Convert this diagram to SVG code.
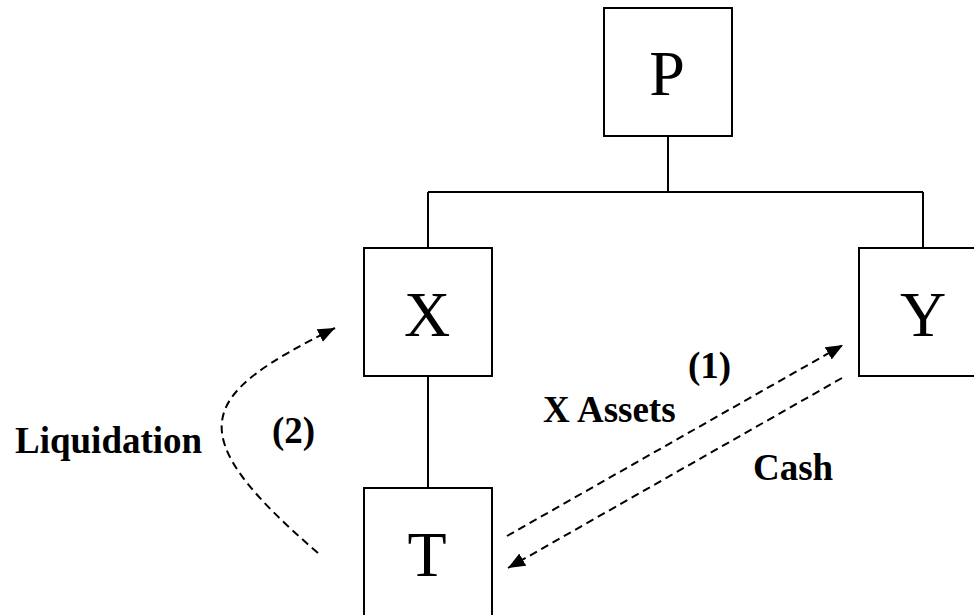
<svg xmlns="http://www.w3.org/2000/svg" width="974" height="615" viewBox="0 0 974 615">
<style>
.box{fill:#fff;stroke:#000;stroke-width:2}
.big{font-family:"Liberation Serif","Times New Roman",serif;font-size:64px;text-anchor:middle;fill:#000}
.lbl{font-family:"Liberation Serif","Times New Roman",serif;font-size:37px;font-weight:bold;fill:#000}
.tree{fill:none;stroke:#000;stroke-width:2}
.dash{fill:none;stroke:#000;stroke-width:2;stroke-dasharray:8 5}
</style>
<defs>
<marker id="ah" markerUnits="userSpaceOnUse" markerWidth="18" markerHeight="14" refX="17" refY="7" orient="auto">
<path d="M0,0 L17,7 L0,14 Z" fill="#000"/>
</marker>
</defs>
<rect width="974" height="615" fill="#fff"/>
<g id="connectors">
<path class="tree" d="M668,136 V192 M428,192 H923 M428,192 V248 M923,192 V248 M428,376 V488"/>
<path class="dash" d="M318,553 C175,430 200,395 335,328" marker-end="url(#ah)"/>
<path class="dash" d="M507,536 L843,345" marker-end="url(#ah)"/>
<path class="dash" d="M842,378 L508,568" marker-end="url(#ah)"/>
</g>
<g id="P"><rect class="box" x="604" y="8" width="128" height="128"/><text class="big" x="667" y="95">P</text></g>
<g id="X"><rect class="box" x="364" y="248" width="128" height="128"/><text class="big" x="427" y="336">X</text></g>
<g id="Y"><rect class="box" x="859" y="248" width="128" height="128"/><text class="big" x="923" y="336">Y</text></g>
<g id="T"><rect class="box" x="364" y="488" width="128" height="140"/><text class="big" x="427" y="576">T</text></g>
<g id="labels">
<text class="lbl" x="15" y="453">Liquidation</text>
<text class="lbl" x="272" y="443">(2)</text>
<text class="lbl" x="688" y="378">(1)</text>
<text class="lbl" x="543" y="422">X Assets</text>
<text class="lbl" x="753" y="480">Cash</text>
</g>
</svg>
